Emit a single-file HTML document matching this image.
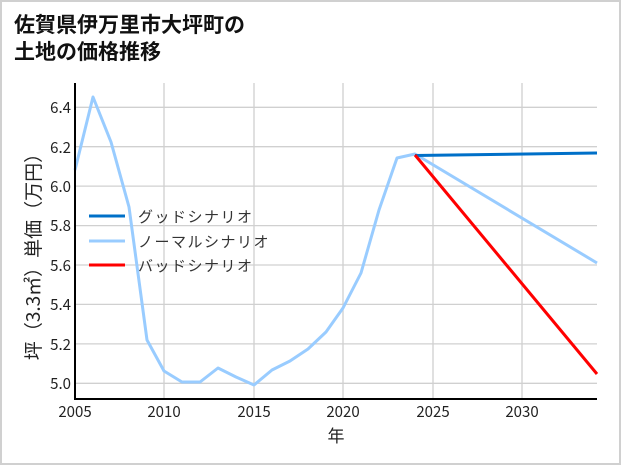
<!DOCTYPE html>
<html><head><meta charset="utf-8"><style>
html,body{margin:0;padding:0;background:#fff;}
svg{display:block;font-family:"Noto Sans CJK JP","Liberation Sans",sans-serif;}
</style></head><body>
<svg width="621" height="465" viewBox="0 0 621 465" xmlns="http://www.w3.org/2000/svg">
<rect x="1" y="1" width="619" height="463" fill="#fff" stroke="#d0d0d0" stroke-width="2"/>
<text x="14" y="32" font-size="21" font-weight="bold" fill="#111">佐賀県伊万里市大坪町の</text>
<text x="14" y="59" font-size="21" font-weight="bold" fill="#111">土地の価格推移</text>
<g stroke="#d0d0d0" stroke-width="1.3">
<line x1="75" x2="597" y1="383.3" y2="383.3"/>
<line x1="75" x2="597" y1="343.9" y2="343.9"/>
<line x1="75" x2="597" y1="304.4" y2="304.4"/>
<line x1="75" x2="597" y1="265" y2="265"/>
<line x1="75" x2="597" y1="225.6" y2="225.6"/>
<line x1="75" x2="597" y1="186.1" y2="186.1"/>
<line x1="75" x2="597" y1="146.7" y2="146.7"/>
<line x1="75" x2="597" y1="107.3" y2="107.3"/>
<line x1="164" x2="164" y1="83" y2="399"/>
<line x1="254" x2="254" y1="83" y2="399"/>
<line x1="343" x2="343" y1="83" y2="399"/>
<line x1="433" x2="433" y1="83" y2="399"/>
<line x1="522" x2="522" y1="83" y2="399"/>
</g>
<g font-size="15" fill="#222" text-anchor="end">
<text x="71" y="389">5.0</text><text x="71" y="350">5.2</text><text x="71" y="310">5.4</text>
<text x="71" y="271">5.6</text><text x="71" y="231">5.8</text><text x="71" y="192">6.0</text>
<text x="71" y="153">6.2</text><text x="71" y="113">6.4</text>
</g>
<g font-size="15" fill="#222" text-anchor="middle">
<text x="75" y="417">2005</text><text x="164" y="417">2010</text><text x="254" y="417">2015</text>
<text x="343" y="417">2020</text><text x="433" y="417">2025</text><text x="522" y="417">2030</text>
<text x="336" y="442" font-size="17">年</text>
</g>
<text transform="translate(40,252) rotate(-90)" font-size="19" fill="#222" text-anchor="middle">坪（3.3㎡）単価（万円）</text>
<polyline fill="none" stroke="#99ccff" stroke-width="3" stroke-linejoin="round" points="75,170 93,97 111,142 129,207 147,340 164,371 182,382 200,382 218,368 236,377 254,385 272,370 290,361 308,349 326,332 343,308 361,273 379,210 397,158 415,154 597,263"/>
<polyline fill="none" stroke="#0070c8" stroke-width="3" points="415,155.5 597,153"/>
<polyline fill="none" stroke="#ff0000" stroke-width="3" points="415,155 597,374"/>
<g stroke-width="3">
<line x1="89" x2="125" y1="216" y2="216" stroke="#0070c8"/>
<line x1="89" x2="125" y1="241" y2="241" stroke="#99ccff"/>
<line x1="89" x2="125" y1="265" y2="265" stroke="#ff0000"/>
</g>
<g font-size="15" fill="#333" letter-spacing="1.5">
<text x="138" y="222">グッドシナリオ</text>
<text x="138" y="247">ノーマルシナリオ</text>
<text x="138" y="271">バッドシナリオ</text>
</g>
<line x1="75" x2="75" y1="83" y2="400" stroke="#000" stroke-width="2"/>
<line x1="74" x2="597" y1="399" y2="399" stroke="#000" stroke-width="2"/>
</svg>
</body></html>
